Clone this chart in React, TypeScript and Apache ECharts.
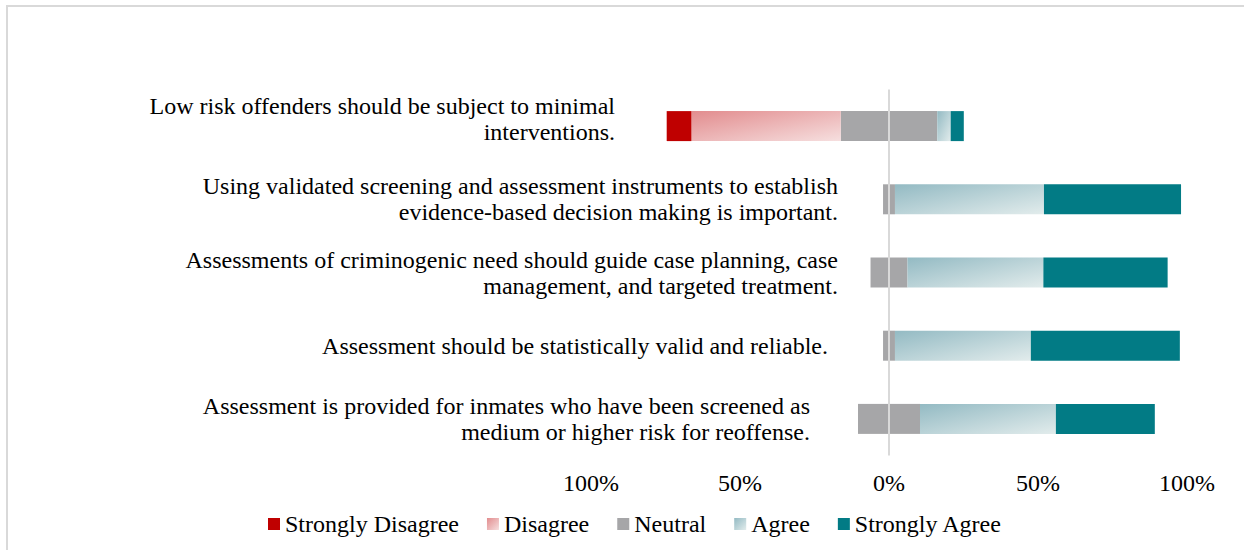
import React, { useEffect, useRef } from "react";
import * as echarts from "echarts";

const categories = [
  "Low risk offenders should be subject to minimal\ninterventions.",
  "Using validated screening and assessment instruments to establish\nevidence-based decision making is important.",
  "Assessments of criminogenic need should guide case planning, case\nmanagement, and targeted treatment.",
  "Assessment should be statistically valid and reliable.",
  "Assessment is provided for inmates who have been screened as\nmedium or higher risk for reoffense.",
];
const stronglyDisagree = [8.3, 0, 0, 0, 0];
const disagree = [50.1, 0, 0, 0, 0];
const neutral = [32.4, 4.0, 12.4, 4.0, 20.8];
const agree = [4.5, 50.0, 45.6, 45.6, 45.6];
const stronglyAgree = [4.4, 46.0, 41.7, 50.0, 33.2];
const xTicks = [-100, -50, 0, 50, 100];
const legendNames = ["Strongly Disagree", "Disagree", "Neutral", "Agree", "Strongly Agree"];

const FONT = "'Liberation Serif', 'Times New Roman', serif";
const FS = 24;
const labelPadRight = [223, 0, 0, 10, 28];

export default function App() {
  const ref = useRef<HTMLDivElement>(null);
  useEffect(() => {
    document.body.style.margin = "0";
    if (!ref.current) return;
    const chart = echarts.init(ref.current, null, { renderer: "svg" });
    const disagreeGrad = new echarts.graphic.LinearGradient(0, 0, 1, 1, [
      { offset: 0, color: "#e28c8e" },
      { offset: 1, color: "#f6dfdf" },
    ]);
    const agreeGrad = new echarts.graphic.LinearGradient(0, 0, 1, 1, [
      { offset: 0, color: "#93bac3" },
      { offset: 1, color: "#e2ecec" },
    ]);
    const half = neutral.map((v) => v / 2);
    const rich: Record<string, any> = {
      sp: { fontSize: 10, lineHeight: 14, height: 14 },
    };
    labelPadRight.forEach((p, i) => {
      rich["r" + i] = { fontSize: FS, fontFamily: FONT, color: "#000", lineHeight: 26, padding: [0, p, 0, 0] };
    });
    const base = {
      type: "bar" as const,
      stack: "total",
      barWidth: 30,
      emphasis: { disabled: true },
    };
    chart.setOption({
      animation: false,
      grid: { left: 591, right: 57, top: 89.5, bottom: 94.5, containLabel: false },
      legend: {
        data: legendNames,
        left: 263,
        top: 507,
        icon: "rect",
        itemWidth: 12,
        itemHeight: 12,
        itemGap: 28,
        textStyle: { fontSize: FS, fontFamily: FONT, color: "#000" },
      },
      xAxis: {
        type: "value",
        min: xTicks[0],
        max: xTicks[xTicks.length - 1],
        interval: 50,
        axisLine: { show: false },
        axisTick: { show: false },
        splitLine: { show: false },
        axisLabel: {
          formatter: (v: number) => Math.abs(v) + "%",
          fontSize: FS,
          fontFamily: FONT,
          color: "#000",
          margin: 15,
        },
      },
      yAxis: {
        type: "category",
        inverse: true,
        data: categories,
        axisLine: { show: false },
        axisTick: { show: false },
        axisLabel: {
          margin: -247,
          formatter: (value: string, index: number) => {
            const lines = value.split("\n").map((l) => `{r${index}|${l}}`);
            if (index === 0) lines.push("{sp| }");
            return lines.join("\n");
          },
          rich,
          fontSize: FS,
          fontFamily: FONT,
          color: "#000",
        },
      },
      graphic: [
        {
          type: "rect",
          shape: { x: 7, y: 6, width: 1400, height: 700 },
          style: { fill: "none", stroke: "#d9d9d9", lineWidth: 2 },
          silent: true,
        },
      ],
      series: [
        {
          ...base,
          name: "Neutral",
          data: half.map((v) => -v),
          itemStyle: { color: "#a6a6a8" },
          markLine: {
            silent: true,
            symbol: ["none", "none"],
            label: { show: false },
            lineStyle: { color: "#d9d9d9", width: 2, type: "solid" },
            data: [{ xAxis: 0 }],
            z: 10,
          },
        },
        { ...base, name: "Disagree", data: disagree.map((v) => -v), itemStyle: { color: disagreeGrad } },
        { ...base, name: "Strongly Disagree", data: stronglyDisagree.map((v) => -v), itemStyle: { color: "#bf0000" } },
        { ...base, name: "Neutral", data: half, itemStyle: { color: "#a6a6a8" } },
        { ...base, name: "Agree", data: agree, itemStyle: { color: agreeGrad } },
        { ...base, name: "Strongly Agree", data: stronglyAgree, itemStyle: { color: "#027b85" } },
      ],
    });
    return () => chart.dispose();
  }, []);
  return <div ref={ref} style={{ width: 1244, height: 550 }} />;
}
